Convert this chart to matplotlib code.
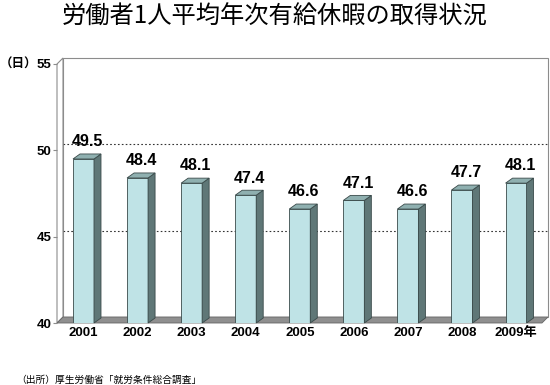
import matplotlib
matplotlib.use('Agg')
import matplotlib.pyplot as plt
from matplotlib.patches import Polygon

# data
years = ['2001', '2002', '2003', '2004', '2005', '2006', '2007', '2008', '2009年']
days = [49.5, 48.4, 48.1, 47.4, 46.6, 47.1, 46.6, 47.7, 48.1]
yticks = [40, 45, 50, 55]

plt.rcParams['font.family'] = ['Liberation Sans', 'Noto Sans CJK JP']

fig = plt.figure(figsize=(5.5, 3.85), dpi=100)
ax = fig.add_axes([57 / 550, 62 / 385, 485 / 550, 259 / 385])
x0, x1 = -0.49, 8.48
y0, y1 = 40, 55
ax.set_xlim(x0, x1)
ax.set_ylim(y0, y1)

# pixel -> data scale for the fake 3d depth
px_x = 485 / (x1 - x0)
px_y = 259 / (y1 - y0)
dx, dy = 6 / px_x, 6 / px_y      # box depth
bdx, bdy = 7 / px_x, 5 / px_y    # bar depth
w = 21 / px_x

edge = '#8c8c8c'
# back wall
ax.add_patch(Polygon([(x0 + dx, y0 + dy), (x0 + dx, y1 + dy), (x1 + dx, y1 + dy), (x1 + dx, y0 + dy)],
                     closed=True, facecolor='white', edgecolor=edge, lw=0.8, clip_on=False, zorder=0))
# left wall
ax.add_patch(Polygon([(x0, y0), (x0, y1), (x0 + dx, y1 + dy), (x0 + dx, y0 + dy)],
                     closed=True, facecolor='white', edgecolor=edge, lw=0.8, clip_on=False, zorder=1))
# floor
ax.add_patch(Polygon([(x0, y0), (x0 + dx, y0 + dy), (x1 + dx, y0 + dy), (x1, y0)],
                     closed=True, facecolor='#8f8f8f', edgecolor='#666666', lw=0.6, clip_on=False, zorder=1))

# dotted grid on back wall
for v in [45, 50]:
    ax.plot([x0 + dx, x1 + dx], [v + dy, v + dy], ls=(0, (1.5, 2)), color='#333333', lw=0.8,
            clip_on=False, zorder=0.5)

# bars
front = '#bfe3e6'
side = '#5f7777'
top = '#8fb0b0'
for i, v in enumerate(days):
    ax.bar(i, v - y0, bottom=y0, width=w, color=front, edgecolor='#3a4a4a', lw=0.6, zorder=3)
    r = i + w / 2
    l = i - w / 2
    ax.add_patch(Polygon([(r, y0), (r + bdx, y0 + bdy), (r + bdx, v + bdy), (r, v)],
                         closed=True, facecolor=side, edgecolor='#3a4a4a', lw=0.6, zorder=3, clip_on=False))
    ax.add_patch(Polygon([(l, v), (l + bdx, v + bdy), (r + bdx, v + bdy), (r, v)],
                         closed=True, facecolor=top, edgecolor='#3a4a4a', lw=0.6, zorder=3, clip_on=False))
    ax.annotate(f'{v:.1f}', (i, v), xytext=(3, 7), textcoords='offset points',
                ha='center', va='bottom', fontsize=11.5, fontweight='bold', zorder=4)

for s in ax.spines.values():
    s.set_visible(False)
ax.set_yticks(yticks)
ax.set_yticklabels([str(t) for t in yticks], fontsize=9.5, fontweight='bold')
ax.tick_params(axis='y', length=3, color=edge, pad=1)
ax.set_xticks(range(len(years)))
ax.set_xticklabels(years, fontsize=9.5, fontweight='bold')
ax.tick_params(axis='x', length=0, pad=3)
ax.patch.set_visible(False)

fig.text(275 / 550, 1 - 17 / 385, '労働者1人平均年次有給休暇の取得状況', ha='center', va='center',
         fontsize=17.5, family=['Noto Sans CJK JP', 'DejaVu Sans'])
fig.text(0, 1 - 65 / 385, '（日）', ha='left', va='center', fontsize=9, fontweight='bold')
fig.text(16 / 550, 1 - 380 / 385, '（出所）厚生労働省「就労条件総合調査」', ha='left', va='center',
         fontsize=7, family=['Noto Sans CJK JP', 'DejaVu Sans'])

fig.savefig('out.png', dpi=100)
